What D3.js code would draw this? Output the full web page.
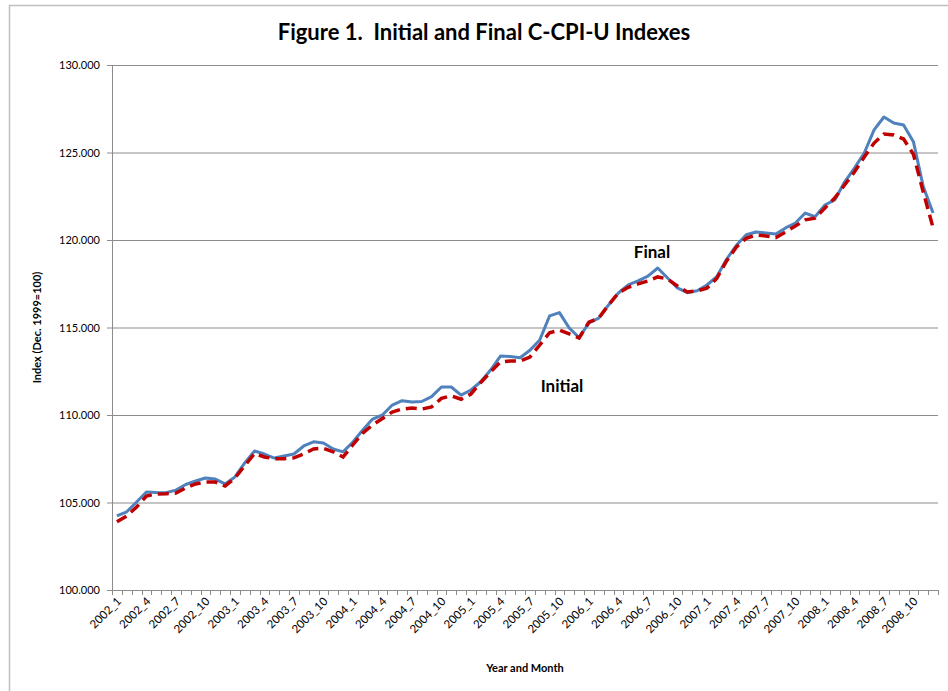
<!DOCTYPE html>
<html>
<head>
<meta charset="utf-8">
<script src="https://cdn.jsdelivr.net/npm/d3@7"></script>
<style>
  body { margin: 0; background: #fff; }
  text { font-family: Lato, "Open Sans", Arial, sans-serif; }
</style>
</head>
<body>
<div id="chart"></div>
<script>
// monthly categories 2002_1 .. 2008_12
var years = [2002, 2003, 2004, 2005, 2006, 2007, 2008];
var months = d3.range(1, 13);
var categories = [];
years.forEach(function (y) {
  months.forEach(function (m) { categories.push(y + "_" + m); });
});

// Final C-CPI-U
var finalIndex = [
  104.23, 104.47, 105.03, 105.60, 105.57, 105.56, 105.71, 106.03, 106.23, 106.40, 106.34, 106.06,
  106.46, 107.26, 107.94, 107.77, 107.54, 107.66, 107.77, 108.23, 108.47, 108.40, 108.06, 107.89,
  108.46, 109.14, 109.77, 110.00, 110.57, 110.82, 110.74, 110.77, 111.05, 111.60, 111.60, 111.14,
  111.43, 111.90, 112.57, 113.37, 113.34, 113.27, 113.70, 114.29, 115.66, 115.85, 114.97, 114.42,
  115.26, 115.54, 116.29, 116.97, 117.43, 117.66, 117.94, 118.40, 117.83, 117.26, 116.99, 117.10,
  117.43, 117.90, 118.90, 119.70, 120.30, 120.46, 120.40, 120.34, 120.69, 120.97, 121.54, 121.33,
  122.00, 122.29, 123.31, 124.11, 124.97, 126.29, 127.03, 126.69, 126.57, 125.62, 123.05, 121.54
];

// Initial C-CPI-U
var initialIndex = [
  103.90, 104.23, 104.74, 105.37, 105.49, 105.50, 105.54, 105.83, 106.06, 106.17, 106.17, 105.94,
  106.40, 107.10, 107.80, 107.60, 107.50, 107.50, 107.55, 107.77, 108.06, 108.10, 107.90, 107.60,
  108.30, 108.97, 109.43, 109.80, 110.17, 110.34, 110.40, 110.34, 110.46, 110.95, 111.10, 110.90,
  111.20, 111.86, 112.46, 113.03, 113.09, 113.09, 113.31, 114.00, 114.70, 114.85, 114.63, 114.40,
  115.30, 115.54, 116.29, 116.97, 117.30, 117.49, 117.66, 117.89, 117.77, 117.37, 117.03, 117.09,
  117.25, 117.80, 118.80, 119.60, 120.10, 120.29, 120.23, 120.14, 120.46, 120.80, 121.15, 121.25,
  121.83, 122.40, 123.14, 123.89, 124.74, 125.54, 126.06, 126.00, 125.77, 124.90, 122.74, 120.70
];

var yTicks = [100, 105, 110, 115, 120, 125, 130];

var W = 948, H = 691;
var margin = {top: 65, right: 10, bottom: 101, left: 112},
    width = 938 - margin.left,
    height = 590 - margin.top;

var svg = d3.select("#chart").append("svg")
    .attr("width", W)
    .attr("height", H);

// chart frame
svg.append("rect")
    .attr("x", 9.5).attr("y", 5.5)
    .attr("width", 960).attr("height", 720)
    .attr("fill", "none")
    .attr("stroke", "#bfbfbf")
    .attr("stroke-width", 1.5);

var g = svg.append("g")
    .attr("transform", "translate(" + margin.left + "," + margin.top + ")");

var x = d3.scaleBand()
    .domain(categories)
    .range([0, width]);

var y = d3.scaleLinear()
    .domain([100, 130])
    .range([height, 0]);

// gridlines
g.selectAll(".grid")
    .data(yTicks.slice(1))
    .enter().append("line")
    .attr("x1", 0).attr("x2", width)
    .attr("y1", function (d) { return y(d) + 0.5; })
    .attr("y2", function (d) { return y(d) + 0.5; })
    .attr("stroke", "#8c8c8c")
    .attr("stroke-width", 1);

// Y axis
var yAxis = d3.axisLeft(y)
    .tickValues(yTicks)
    .tickSize(5)
    .tickPadding(7)
    .tickFormat(d3.format(".3f"));

var ya = g.append("g").call(yAxis);
ya.select(".domain").attr("stroke", "#8c8c8c");
ya.selectAll(".tick line").attr("stroke", "#8c8c8c");
ya.selectAll("text")
    .style("font-size", "11px")
    .style("fill", "#000");

// X axis: ticks at category boundaries, labels every 3 months
var xa = g.append("g")
    .attr("transform", "translate(0," + height + ")");

xa.append("line")
    .attr("x1", 0).attr("x2", width)
    .attr("y1", 0.5).attr("y2", 0.5)
    .attr("stroke", "#8c8c8c");

xa.selectAll(".xtick")
    .data(categories.concat(["end"]))
    .enter().append("line")
    .attr("x1", function (d, i) { return Math.round(i * x.step()) + 0.5; })
    .attr("x2", function (d, i) { return Math.round(i * x.step()) + 0.5; })
    .attr("y1", 0).attr("y2", 5)
    .attr("stroke", "#8c8c8c");

xa.selectAll(".xlabel")
    .data(categories.filter(function (d, i) { return i % 3 === 0; }))
    .enter().append("text")
    .attr("text-anchor", "end")
    .attr("transform", function (d) {
        return "translate(" + (x(d) + x.bandwidth() / 2 + 5) + ",12) rotate(-45)";
    })
    .style("font-size", "11.5px")
    .style("fill", "#000")
    .text(function (d) { return d; });

// lines
var line = d3.line()
    .x(function (d, i) { return x(categories[i]) + x.bandwidth() / 2; })
    .y(function (d) { return y(d); });

g.append("path")
    .datum(finalIndex)
    .attr("fill", "none")
    .attr("stroke", "#4f81bd")
    .attr("stroke-width", 3)
    .attr("stroke-linejoin", "round")
    .attr("d", line);

g.append("path")
    .datum(initialIndex)
    .attr("fill", "none")
    .attr("stroke", "#c00000")
    .attr("stroke-width", 3.5)
    .attr("stroke-dasharray", "11,6")
    .attr("d", line);

// annotations
g.append("text")
    .attr("x", 652 - margin.left).attr("y", 258 - margin.top)
    .attr("text-anchor", "middle")
    .style("font-size", "17px")
    .style("font-weight", "bold")
    .text("Final");

g.append("text")
    .attr("x", 562 - margin.left).attr("y", 392 - margin.top)
    .attr("text-anchor", "middle")
    .style("font-size", "17px")
    .style("font-weight", "bold")
    .text("Initial");

// title
svg.append("text")
    .attr("x", 484).attr("y", 40)
    .attr("text-anchor", "middle")
    .style("white-space", "pre")
    .style("font-size", "22px")
    .style("font-weight", "bold")
    .text("Figure 1.  Initial and Final C-CPI-U Indexes");

// axis titles
svg.append("text")
    .attr("transform", "translate(41," + (margin.top + height / 2) + ") rotate(-90)")
    .attr("text-anchor", "middle")
    .style("font-size", "11px")
    .style("font-weight", "bold")
    .text("Index (Dec. 1999=100)");

svg.append("text")
    .attr("x", 525).attr("y", 672)
    .attr("text-anchor", "middle")
    .style("font-size", "11px")
    .style("font-weight", "bold")
    .text("Year and Month");
</script>
</body>
</html>
